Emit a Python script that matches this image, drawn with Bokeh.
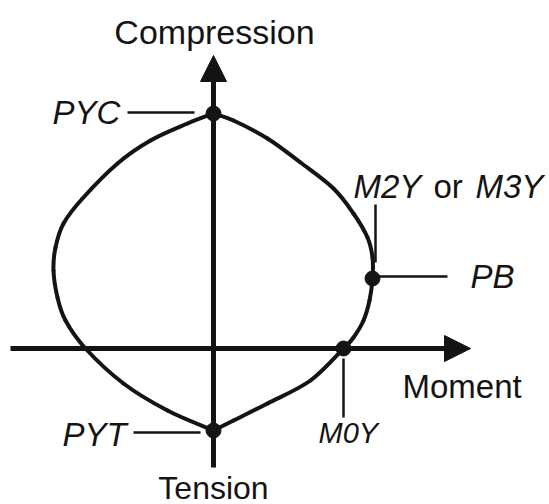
from bokeh.plotting import figure
from bokeh.models import Range1d, Arrow, NormalHead, ColumnDataSource
from bokeh.core.properties import value
from bokeh.embed import file_html
from bokeh.resources import INLINE

# Interaction surface (moment M, axial force P), traced clockwise from PYC
curve_m = [0.00, 0.20, 0.54, 0.87, 1.20, 1.40, 1.54, 1.59, 1.59, 1.56, 1.50, 1.40,
           1.30, 0.97, 0.54, 0.20, 0.00,
           -0.46, -0.90, -1.28, -1.48, -1.56, -1.60, -1.58, -1.50, -1.31,
           -0.96, -0.63, -0.26, 0.00]
curve_p = [2.35, 2.28, 2.10, 1.86, 1.60, 1.35, 1.11, 0.91, 0.70, 0.48, 0.28, 0.11,
           0.00, -0.32, -0.55, -0.72, -0.82,
           -0.62, -0.35, 0.00, 0.28, 0.51, 0.78, 1.01, 1.25, 1.50,
           1.85, 2.08, 2.25, 2.35]

# Key points on the surface
point_names = ["PYC", "PB", "M0Y", "PYT"]
point_m = [0.00, 1.59, 1.30, 0.00]
point_p = [2.35, 0.70, 0.00, -0.82]

INK = "#161413"
FONT = value("Liberation Sans")
TXT_DY = 0.11  # baseline correction for the SVG text glyphs


def smooth_branch(xs, ys):
    """Cubic Bezier segments (Catmull-Rom tangents) through the given points."""
    n = len(xs)
    seg = dict(x0=[], y0=[], x1=[], y1=[], cx0=[], cy0=[], cx1=[], cy1=[])
    for i in range(n - 1):
        a = max(i - 1, 0)
        d = min(i + 2, n - 1)
        seg["x0"].append(xs[i]); seg["y0"].append(ys[i])
        seg["x1"].append(xs[i + 1]); seg["y1"].append(ys[i + 1])
        seg["cx0"].append(xs[i] + (xs[i + 1] - xs[a]) / 6)
        seg["cy0"].append(ys[i] + (ys[i + 1] - ys[a]) / 6)
        seg["cx1"].append(xs[i + 1] - (xs[d] - xs[i]) / 6)
        seg["cy1"].append(ys[i + 1] - (ys[d] - ys[i]) / 6)
    return seg


p = figure(width=549, height=504, output_backend="svg", toolbar_location=None,
           x_range=Range1d(-2.13, 3.36), y_range=Range1d(-1.56, 3.48),
           min_border=0)
p.axis.visible = False
p.grid.visible = False
p.outline_line_color = None
p.background_fill_color = "white"
p.border_fill_color = "white"

# Moment and axial-force axes with arrow heads
p.add_layout(Arrow(x_start=-2.03, y_start=0, x_end=2.57, y_end=0,
                   line_width=5, line_color=INK,
                   end=NormalHead(size=26, fill_color=INK, line_color=INK)))
p.add_layout(Arrow(x_start=0, y_start=-1.19, x_end=0, y_end=2.93,
                   line_width=5, line_color=INK,
                   end=NormalHead(size=26, fill_color=INK, line_color=INK)))

# Interaction curve: two smooth branches meeting at the PYC and PYT cusps
i_pyt = curve_p.index(min(curve_p))
for lo, hi in [(0, i_pyt), (i_pyt, len(curve_m) - 1)]:
    seg = smooth_branch(curve_m[lo:hi + 1], curve_p[lo:hi + 1])
    p.bezier(x0="x0", y0="y0", x1="x1", y1="y1", cx0="cx0", cy0="cy0",
             cx1="cx1", cy1="cy1", source=ColumnDataSource(seg),
             line_width=4, line_color=INK, line_cap="round")

# Leader lines to the labels
PYC = (point_m[0], point_p[0])
PB = (point_m[1], point_p[1])
M0Y = (point_m[2], point_p[2])
PYT = (point_m[3], point_p[3])
leaders_x = [[-0.86, -0.19], [PB[0] + 0.06, 2.34], [M0Y[0], M0Y[0]],
             [-0.80, -0.13], [1.62, 1.62]]
leaders_y = [[PYC[1] + 0.01, PYC[1] + 0.01], [PB[1] + 0.02, PB[1] + 0.02],
             [-0.10, -0.69], [PYT[1] - 0.02, PYT[1] - 0.02], [1.44, 0.86]]
p.multi_line(leaders_x, leaders_y, line_width=2.5, line_color=INK)

# Markers at the key points
p.scatter(point_m, point_p, size=15, fill_color=INK, line_color=INK)

# Axis titles
p.text(x=[0.01], y=[3.06 + TXT_DY], text=["Compression"], text_font=FONT,
       text_font_size="34px", text_align="center", text_baseline="alphabetic",
       text_color=INK)
p.text(x=[0.0], y=[-1.50 + TXT_DY], text=["Tension"], text_font=FONT,
       text_font_size="32px", text_align="center", text_baseline="alphabetic",
       text_color=INK)
p.text(x=[1.89], y=[-0.49 + TXT_DY], text=["Moment"], text_font=FONT,
       text_font_size="33px", text_align="left", text_baseline="alphabetic",
       text_color=INK)

# Point labels (italic)
lab_x = [-1.61, 2.57, 1.05, -1.51]
lab_y = [y + TXT_DY for y in [2.25, 0.61, -0.95, -0.97]]
lab_size = ["33px", "33px", "29px", "33px"]
src = ColumnDataSource(dict(x=lab_x, y=lab_y, t=point_names, s=lab_size))
p.text(x="x", y="y", text="t", source=src, text_font=FONT,
       text_font_size="s", text_font_style="italic",
       text_align="left", text_baseline="alphabetic", text_color=INK)

# "M2Y or M3Y" with mixed styles
p.text(x=[1.40, 2.62], y=[1.51 + TXT_DY] * 2, text=["M2Y", "M3Y"], text_font=FONT,
       text_font_size="33px", text_font_style="italic",
       text_align="left", text_baseline="alphabetic", text_color=INK)
p.text(x=[2.20], y=[1.51 + TXT_DY], text=["or"], text_font=FONT,
       text_font_size="33px", text_align="left", text_baseline="alphabetic",
       text_color=INK)

open("out.html", "w").write(file_html(p, INLINE))
